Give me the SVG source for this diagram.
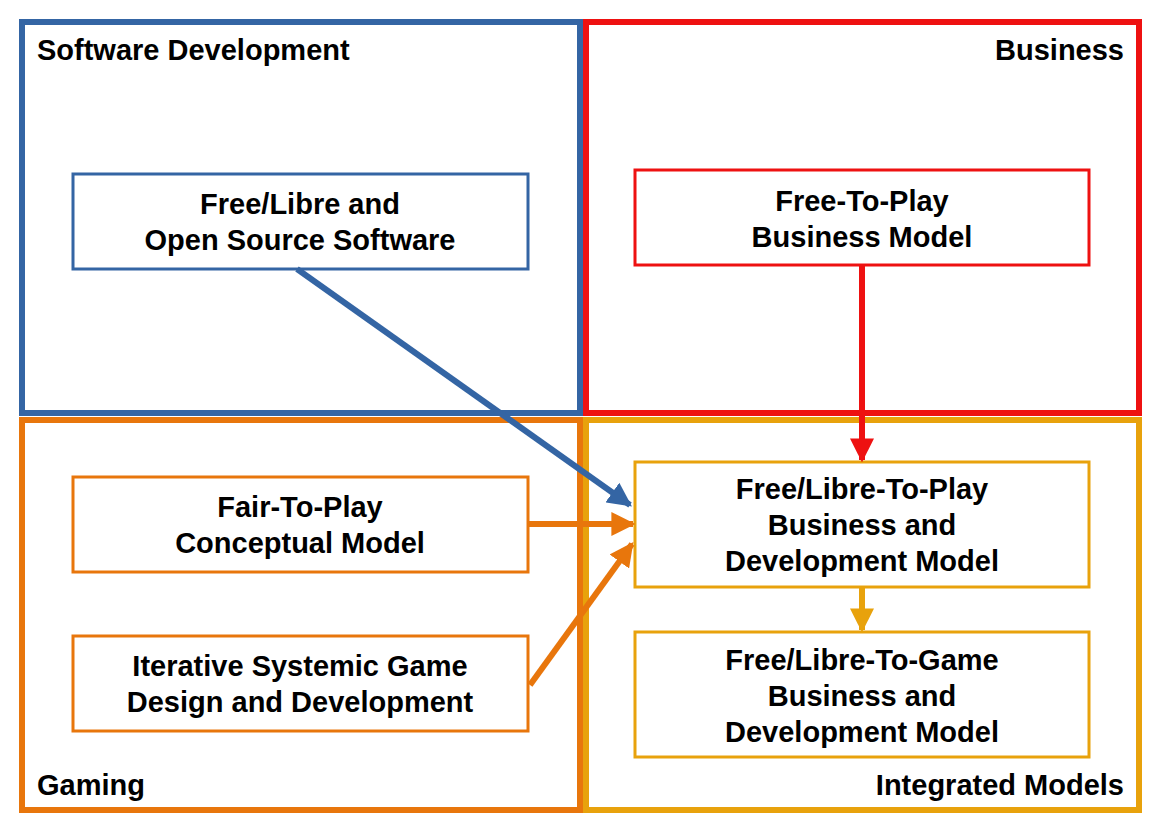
<svg xmlns="http://www.w3.org/2000/svg" width="1160" height="832" viewBox="0 0 1160 832">
<style>
text{font-family:"Liberation Sans",Arial,sans-serif;font-weight:bold;font-size:29px;fill:#000}
.c{text-anchor:middle}
.q{fill:none;stroke-width:6}
.b{fill:#fff;stroke-width:3}
.a{fill:none;stroke-width:6}
</style>
<defs>
<marker id="mb" viewBox="0 0 10 10" refX="9" refY="5" markerWidth="4" markerHeight="4" orient="auto" markerUnits="strokeWidth"><path d="M0,0L10,5L0,10z" fill="#3465a4"/></marker>
<marker id="mr" viewBox="0 0 10 10" refX="9" refY="5" markerWidth="4" markerHeight="4" orient="auto" markerUnits="strokeWidth"><path d="M0,0L10,5L0,10z" fill="#ee1111"/></marker>
<marker id="mo" viewBox="0 0 10 10" refX="9" refY="5" markerWidth="4" markerHeight="4" orient="auto" markerUnits="strokeWidth"><path d="M0,0L10,5L0,10z" fill="#e8760c"/></marker>
<marker id="my" viewBox="0 0 10 10" refX="9" refY="5" markerWidth="4" markerHeight="4" orient="auto" markerUnits="strokeWidth"><path d="M0,0L10,5L0,10z" fill="#e8a20c"/></marker>
</defs>
<rect width="1160" height="832" fill="#fff"/>
<g id="q-software"><rect class="q" x="22" y="22" width="558" height="391" stroke="#3465a4"/><text x="37" y="60">Software Development</text></g>
<g id="q-business"><rect class="q" x="586" y="22" width="553" height="391" stroke="#ee1111"/><text x="1124" y="60" text-anchor="end">Business</text></g>
<g id="q-gaming"><rect class="q" x="22" y="420" width="558" height="390" stroke="#e8760c"/><text x="37" y="795">Gaming</text></g>
<g id="q-integrated"><rect class="q" x="586" y="420" width="553" height="390" stroke="#e8a20c"/><text x="1124" y="795" text-anchor="end">Integrated Models</text></g>
<g id="n-floss"><rect class="b" x="73" y="174" width="455" height="95" stroke="#3465a4"/><text class="c" x="300" y="214">Free/Libre and</text><text class="c" x="300" y="250">Open Source Software</text></g>
<g id="n-f2p"><rect class="b" x="635" y="170" width="454" height="95" stroke="#ee1111"/><text class="c" x="862" y="211">Free-To-Play</text><text class="c" x="862" y="247">Business Model</text></g>
<g id="n-fair"><rect class="b" x="73" y="477" width="455" height="95" stroke="#e8760c"/><text class="c" x="300" y="517">Fair-To-Play</text><text class="c" x="300" y="553">Conceptual Model</text></g>
<g id="n-isgdd"><rect class="b" x="73" y="636" width="455" height="95" stroke="#e8760c"/><text class="c" x="300" y="676">Iterative Systemic Game</text><text class="c" x="300" y="712">Design and Development</text></g>
<g id="n-fl2p"><rect class="b" x="635" y="462" width="454" height="125" stroke="#e8a20c"/><text class="c" x="862" y="499">Free/Libre-To-Play</text><text class="c" x="862" y="535">Business and</text><text class="c" x="862" y="571">Development Model</text></g>
<g id="n-fl2g"><rect class="b" x="635" y="632" width="454" height="125" stroke="#e8a20c"/><text class="c" x="862" y="670">Free/Libre-To-Game</text><text class="c" x="862" y="706">Business and</text><text class="c" x="862" y="742">Development Model</text></g>
<g id="connectors">
<line class="a" x1="297" y1="269" x2="630" y2="505" stroke="#3465a4" marker-end="url(#mb)"/>
<line class="a" x1="862" y1="265" x2="862" y2="460" stroke="#ee1111" marker-end="url(#mr)"/>
<line class="a" x1="528" y1="524" x2="633" y2="524" stroke="#e8760c" marker-end="url(#mo)"/>
<line class="a" x1="530" y1="685" x2="632" y2="544" stroke="#e8760c" marker-end="url(#mo)"/>
<line class="a" x1="862" y1="587" x2="862" y2="630" stroke="#e8a20c" marker-end="url(#my)"/>
</g>
</svg>
